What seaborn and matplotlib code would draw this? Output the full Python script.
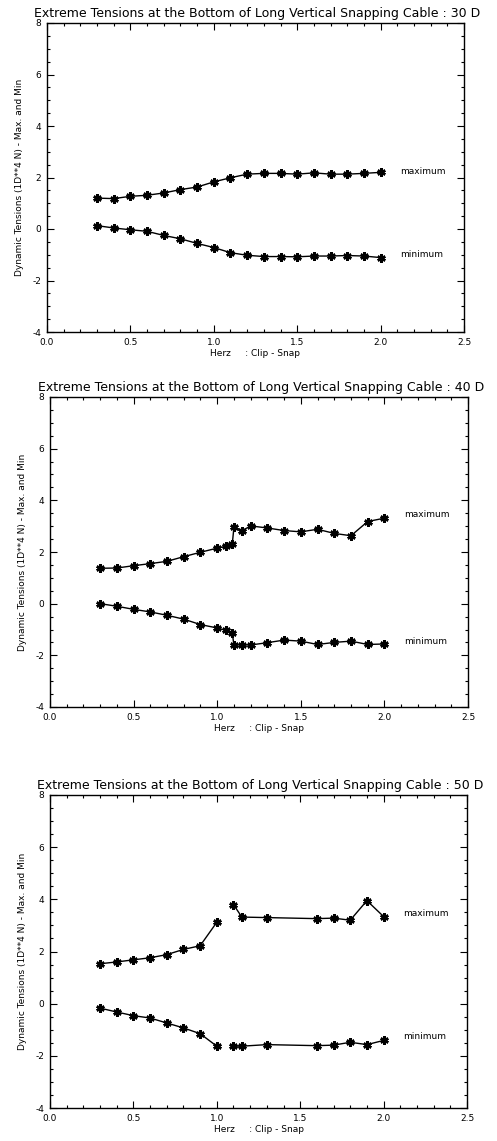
import numpy as np
import pandas as pd
import matplotlib
matplotlib.use("Agg")
import matplotlib.pyplot as plt
from matplotlib.ticker import MultipleLocator, FormatStrFormatter
import seaborn as sns

# ---------------- data ----------------
hz30 = [0.3, 0.4, 0.5, 0.6, 0.7, 0.8, 0.9, 1.0, 1.1, 1.2, 1.3, 1.4, 1.5, 1.6, 1.7, 1.8, 1.9, 2.0]
max30 = [1.20, 1.18, 1.27, 1.31, 1.40, 1.53, 1.63, 1.83, 1.99, 2.13, 2.16, 2.16, 2.13, 2.18, 2.13, 2.13, 2.16, 2.20]
min30 = [0.13, 0.04, -0.03, -0.09, -0.25, -0.38, -0.56, -0.72, -0.92, -1.02, -1.07, -1.07, -1.08, -1.05, -1.05, -1.03, -1.05, -1.11]
seg30 = [0] * 18

hz40 = [0.3, 0.4, 0.5, 0.6, 0.7, 0.8, 0.9, 1.0, 1.05, 1.09, 1.1, 1.15, 1.2, 1.3, 1.4, 1.5, 1.6, 1.7, 1.8, 1.9, 2.0]
max40 = [1.37, 1.38, 1.47, 1.55, 1.64, 1.82, 1.99, 2.15, 2.22, 2.30, 2.95, 2.83, 3.01, 2.93, 2.83, 2.78, 2.88, 2.72, 2.63, 3.18, 3.31]
min40 = [0.0, -0.10, -0.22, -0.32, -0.45, -0.60, -0.81, -0.94, -1.03, -1.13, -1.60, -1.60, -1.60, -1.51, -1.41, -1.45, -1.58, -1.50, -1.45, -1.58, -1.56]
seg40 = [0] * 21

hz50 = [0.3, 0.4, 0.5, 0.6, 0.7, 0.8, 0.9, 1.0, 1.1, 1.15, 1.3, 1.6, 1.7, 1.8, 1.9, 2.0]
max50 = [1.53, 1.60, 1.68, 1.76, 1.88, 2.08, 2.22, 3.12, 3.80, 3.32, 3.30, 3.26, 3.28, 3.20, 3.95, 3.34]
min50 = [-0.17, -0.32, -0.46, -0.55, -0.74, -0.93, -1.15, -1.63, -1.63, -1.63, -1.57, -1.61, -1.59, -1.48, -1.57, -1.41]
seg50 = [0] * 8 + [1] * 8

angles = ["30 D", "40 D", "50 D"]
label_y_max = [2.25, 3.44, 3.46]
label_y_min = [-1.0, -1.45, -1.27]
xticks = [0.0, 0.5, 1.0, 1.5, 2.0, 2.5]
yticks = [-4, -2, 0, 2, 4, 6, 8]

title_text = "Extreme Tensions at the Bottom of Long Vertical Snapping Cable : "
ylabel_text = "Dynamic Tensions (1D**4 N) - Max. and Min"
xlabel_text = "Herz     : Clip - Snap"

# ---------------- style ----------------
sns.set_style("white")
plt.rcParams['font.family'] = ['DejaVu Sans']
plt.rcParams['text.color'] = 'black'
plt.rcParams['axes.labelcolor'] = 'black'
plt.rcParams['xtick.color'] = 'black'
plt.rcParams['ytick.color'] = 'black'

fig = plt.figure(figsize=(4.97, 11.41), dpi=100)
W, H = 497.0, 1141.0
boxes = [(47, 23, 464, 332), (50, 397, 468, 707), (50, 795, 467, 1108)]

datasets = [(hz30, max30, min30, seg30), (hz40, max40, min40, seg40), (hz50, max50, min50, seg50)]

for i, ((l, t, r, b), (hz, mx, mn, sg)) in enumerate(zip(boxes, datasets)):
    ax = fig.add_axes([l / W, 1 - b / H, (r - l) / W, (b - t) / H])
    df = pd.concat([
        pd.DataFrame({"hz": hz, "val": mx, "unit": [f"max{s}" for s in sg]}),
        pd.DataFrame({"hz": hz, "val": mn, "unit": [f"min{s}" for s in sg]}),
    ], ignore_index=True)
    sns.lineplot(data=df, x="hz", y="val", units="unit", estimator=None,
                 color="black", linewidth=1.0, marker=(6, 2, 0),
                 markersize=6, markeredgewidth=1.8, markeredgecolor="black",
                 ax=ax, legend=False)
    ax.set_xlim(0, 2.5)
    ax.set_ylim(-4, 8)
    ax.set_xticks(xticks)
    ax.set_yticks(yticks)
    ax.xaxis.set_major_formatter(FormatStrFormatter("%.1f"))
    ax.yaxis.set_major_formatter(FormatStrFormatter("%d"))
    ax.xaxis.set_minor_locator(MultipleLocator(0.1))
    ax.yaxis.set_minor_locator(MultipleLocator(0.5))
    ax.tick_params(which="both", direction="in", top=True, right=True,
                   bottom=True, left=True, color="black", width=0.8)
    ax.tick_params(which="major", length=5, labelsize=6.5, pad=4)
    ax.tick_params(which="minor", length=2.5)
    for sp in ax.spines.values():
        sp.set_color("black")
        sp.set_linewidth(1.0)
    ax.set_xlabel(xlabel_text, fontsize=6.5, labelpad=2)
    ax.set_ylabel(ylabel_text, fontsize=6.5, labelpad=6)
    ax.set_title(title_text + angles[i], fontsize=9.0, pad=4, x=0.505)
    ax.text(2.12, label_y_max[i], "maximum", fontsize=6.5, va="center")
    ax.text(2.12, label_y_min[i], "minimum", fontsize=6.5, va="center")

fig.savefig("out.png", dpi=100)
